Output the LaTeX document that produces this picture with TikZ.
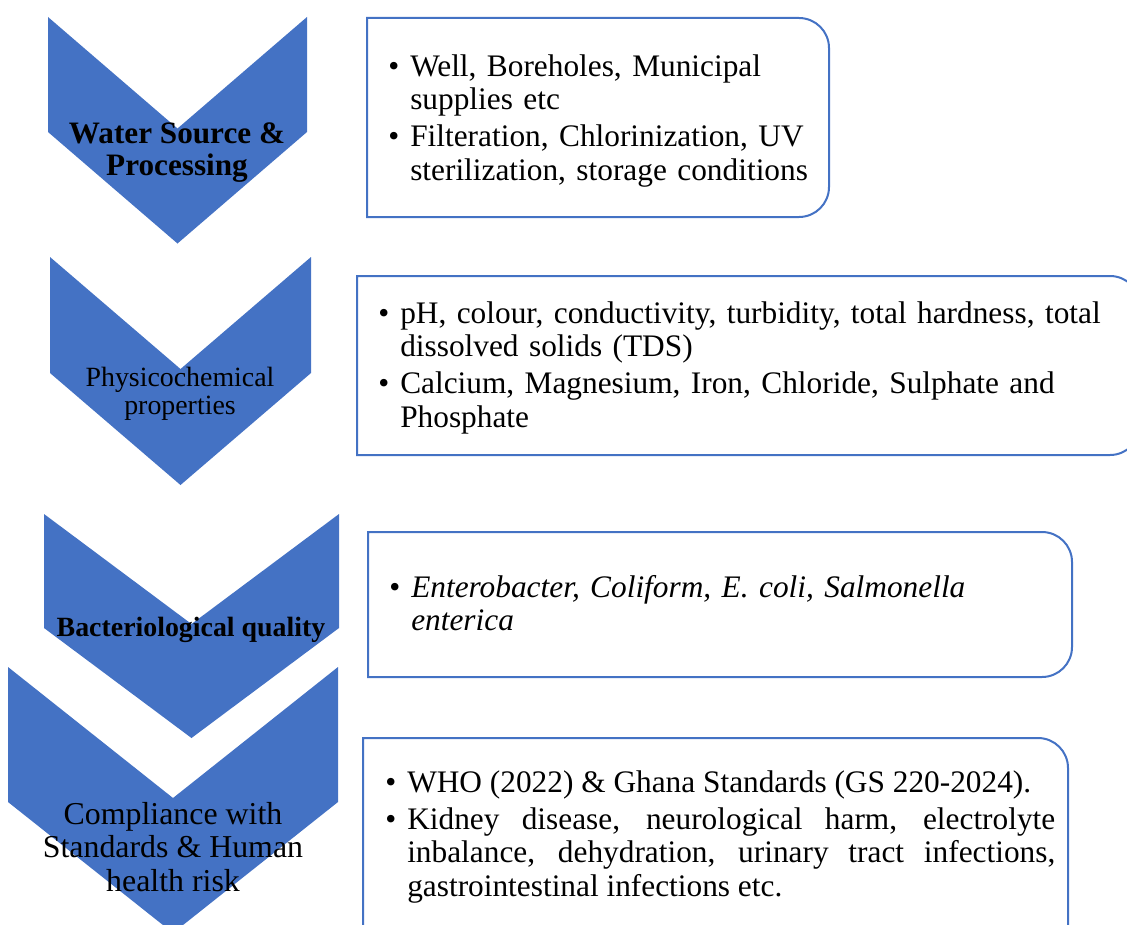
\documentclass[tikz,border=0pt]{standalone}
\usepackage{fontspec}
\setmainfont{Liberation Serif}
\usepackage{tikz}
\definecolor{stageblue}{HTML}{4472C4}
\newcommand{\pointitem}[1]{\noindent\hangindent=16.5pt\hangafter=1\makebox[16.5pt][l]{\textbullet}#1\par}
\newcommand{\pointgap}{\vspace{3pt}}
\newcommand{\stagechevron}[5]{% left, right, top, side bottom, depth
  \fill[stage] (#1,#3) -- ({(#1+#2)/2},#3+#5) -- (#2,#3) -- (#2,#4) -- ({(#1+#2)/2},#4+#5) -- (#1,#4) -- cycle;}
\newcommand{\infoframe}[5]{% left, right, top, bottom, radius
  \draw[infobox] (#1,#3) -- (#2-#5,#3) arc[start angle=-90, end angle=0, radius=#5]
    -- (#2,#4-#5) arc[start angle=0, end angle=90, radius=#5] -- (#1,#4) -- cycle;}
\tikzset{%
  stage/.style = {fill=stageblue},
  stagetext/.style = {anchor=north, align=center, inner sep=0pt, text=black},
  infobox/.style = {draw=stageblue, line width=1.5pt},
  infotext/.style = {anchor=base west, inner sep=0pt, align=left, text width=560pt,
    font=\fontsize{23.5}{25.1}\selectfont}
}

\begin{document}
\begin{tikzpicture}[x=0.75pt, y=-0.75pt]
\useasboundingbox (0,0) rectangle (1127,924);
\clip (0,0) rectangle (1127,924);

% chevrons
\stagechevron{48}{307}{17}{132}{111.5}
\stagechevron{50}{311}{257}{373}{112}
\stagechevron{44}{339}{514}{628}{110}
\stagechevron{8}{338}{667}{802}{131}

\node[stagetext, font=\fontsize{23.4}{24}\selectfont\bfseries] (source) at (177,122)
  {Water Source \&\\Processing};
\node[stagetext, font=\fontsize{20.9}{21}\selectfont] (physico) at (180,367)
  {Physicochemical\\properties};
\node[stagetext, font=\fontsize{20.9}{21}\selectfont\bfseries] (bacterio) at (191,617)
  {Bacteriological quality};
\node[stagetext, font=\fontsize{23.9}{25}\selectfont] (compliance) at (173,802)
  {Compliance with\\Standards \& Human\\health risk};

% boxes
\infoframe{367}{829}{18}{217}{30}
\infoframe{357}{1140}{276}{455}{30}
\infoframe{368}{1072}{532}{677}{30}
\infoframe{363}{1068}{738}{960}{30}

\node[infotext] (sourcelist) at (388,76) {%
  \pointitem{Well, Boreholes, Municipal\newline supplies etc}\pointgap
  \pointitem{Filteration, Chlorinization, UV\newline sterilization, storage conditions}};
\node[infotext] (physicolist) at (378,323) {%
  \pointitem{pH, colour, conductivity, turbidity, total hardness, total\newline dissolved solids (TDS)}\pointgap
  \pointitem{Calcium, Magnesium, Iron, Chloride, Sulphate and\newline Phosphate}};
\node[infotext] (bacteriolist) at (389,597) {%
  \pointitem{\textit{Enterobacter, Coliform, E. coli, Salmonella}\newline \textit{enterica}}};
\node[infotext, align=justify, text width=502.5pt] (compliancelist) at (385,792) {%
  \tolerance=9999
  \pointitem{WHO (2022) \& Ghana Standards (GS 220-2024).}\pointgap
  \pointitem{Kidney disease, neurological harm, electrolyte\linebreak inbalance, dehydration, urinary tract infections,\linebreak gastrointestinal infections etc.}};
\end{tikzpicture}
\end{document}
